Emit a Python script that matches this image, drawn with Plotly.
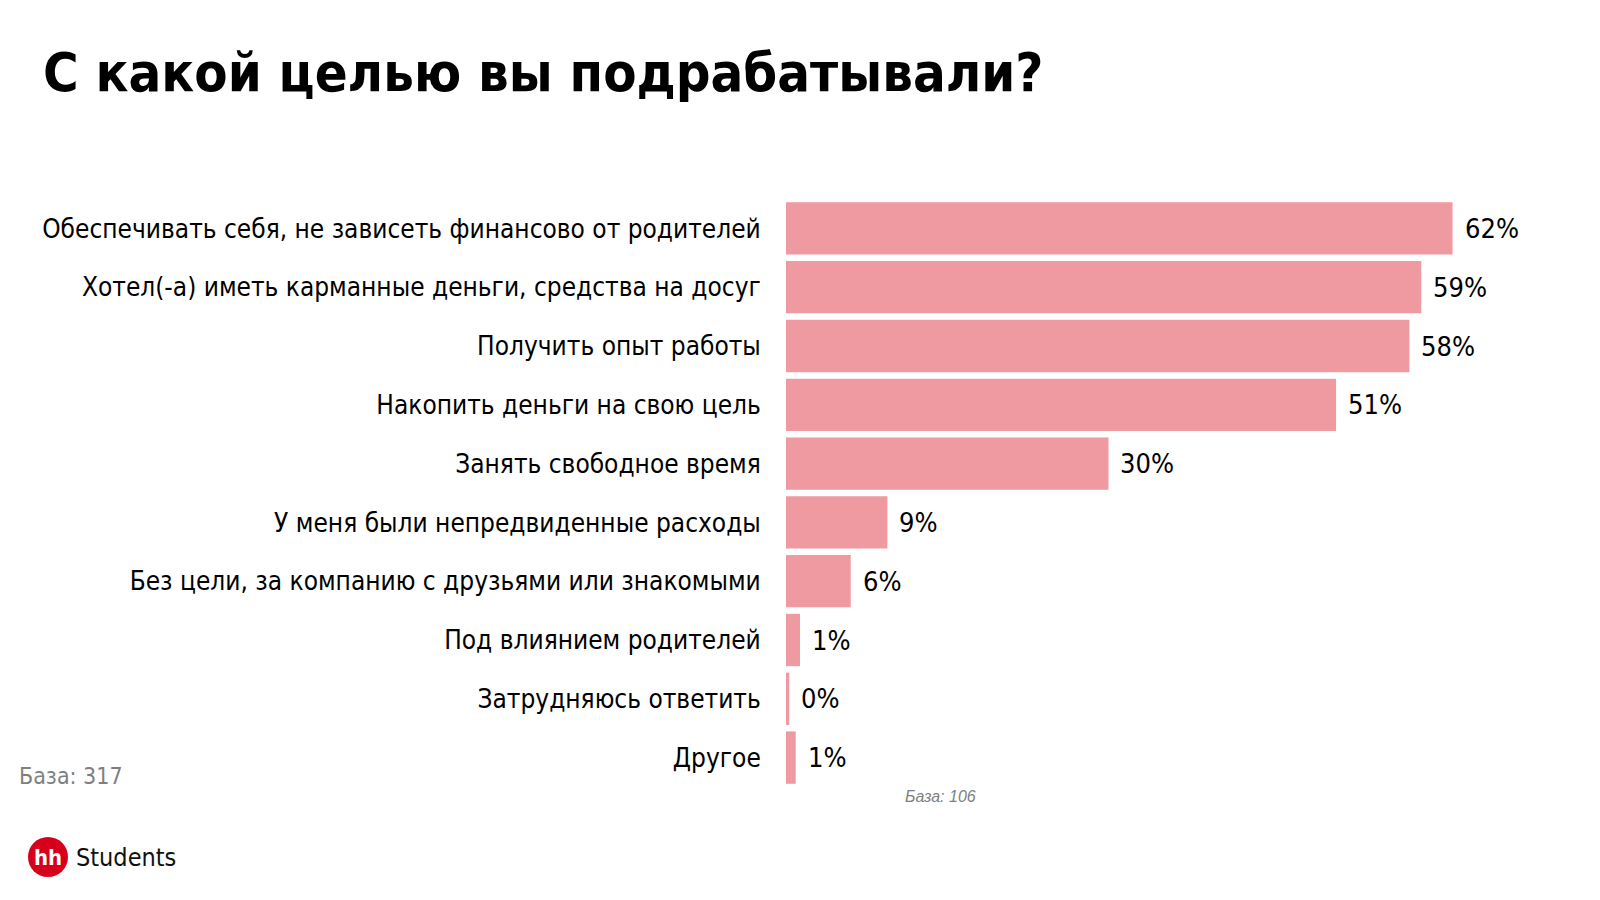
import plotly.graph_objects as go

categories = [
    "Обеспечивать себя, не зависеть финансово от родителей",
    "Хотел(-а) иметь карманные деньги, средства на досуг",
    "Получить опыт работы",
    "Накопить деньги на свою цель",
    "Занять свободное время",
    "У меня были непредвиденные расходы",
    "Без цели, за компанию с друзьями или знакомыми",
    "Под влиянием родителей",
    "Затрудняюсь ответить",
    "Другое",
]
values = [61.8, 58.9, 57.8, 51.0, 29.9, 9.4, 6.0, 1.3, 0.3, 0.9]
value_labels = ["62%", "59%", "58%", "51%", "30%", "9%", "6%", "1%", "0%", "1%"]

title_text = "С какой целью вы подрабатывали?"
base_left = "База: 317"
base_chart = "База: 106"

OFF = 8  # page body margin
W, H = 1600 - OFF, 900 - OFF
L, R, T, B = 786 - OFF, 59, 199 - OFF, 113
PW, PH = W - L - R, H - T - B


def px(x):
    return (x - OFF - L) / PW


def py(y):
    return (H - B - (y - OFF)) / PH


BAR_COLOR = "#EF99A1"
FONT = "DejaVu Sans Condensed, Liberation Sans"

fig = go.Figure(
    go.Bar(
        x=values,
        y=categories,
        orientation="h",
        marker=dict(color=BAR_COLOR, line=dict(width=0)),
        hoverinfo="skip",
    )
)

annotations = []
for c, v, t in zip(categories, values, value_labels):
    annotations.append(dict(
        x=v, y=c, xref="x", yref="y", text=t, showarrow=False,
        xanchor="left", yanchor="middle", xshift=10,
        font=dict(family=FONT, size=27, color="#000000"),
    ))

annotations += [
    dict(x=px(17), y=py(776), xref="paper", yref="paper", text=base_left,
         showarrow=False, xanchor="left", yanchor="middle",
         font=dict(family=FONT, size=23, color="#7F7F7F")),
    dict(x=px(903), y=py(796), xref="paper", yref="paper", text="<i>" + base_chart + "</i>",
         showarrow=False, xanchor="left", yanchor="middle",
         font=dict(family="Liberation Sans", size=16, color="#7F7F7F")),
    dict(x=px(48), y=py(857), xref="paper", yref="paper", text="<b>hh</b>",
         showarrow=False, xanchor="center", yanchor="middle",
         font=dict(family=FONT, size=22, color="#FFFFFF")),
    dict(x=px(74), y=py(857), xref="paper", yref="paper", text="Students",
         showarrow=False, xanchor="left", yanchor="middle",
         font=dict(family=FONT, size=25, color="#111111")),
]

shapes = [
    dict(type="circle", xref="paper", yref="paper",
         x0=px(28), x1=px(68), y0=py(877), y1=py(837),
         fillcolor="#D6001C", line=dict(width=0), layer="below"),
]

fig.update_layout(
    width=W, height=H,
    margin=dict(l=L, r=R, t=T, b=B, pad=0),
    paper_bgcolor="white", plot_bgcolor="white",
    bargap=0.11,
    showlegend=False,
    title=dict(text="<b>" + title_text + "</b>", xref="container", yref="container",
               x=(43 - OFF) / W, y=1 - (72 - OFF) / H, xanchor="left", yanchor="middle",
               font=dict(family=FONT, size=54, color="#000000")),
    xaxis=dict(range=[0, 70], visible=False, fixedrange=True),
    yaxis=dict(autorange="reversed", showgrid=False, zeroline=False, showline=False,
               ticks="outside", ticklen=19, tickcolor="rgba(0,0,0,0)",
               tickfont=dict(family=FONT, size=26, color="#000000")),
    annotations=annotations,
    shapes=shapes,
)

fig.write_html("out.html")
